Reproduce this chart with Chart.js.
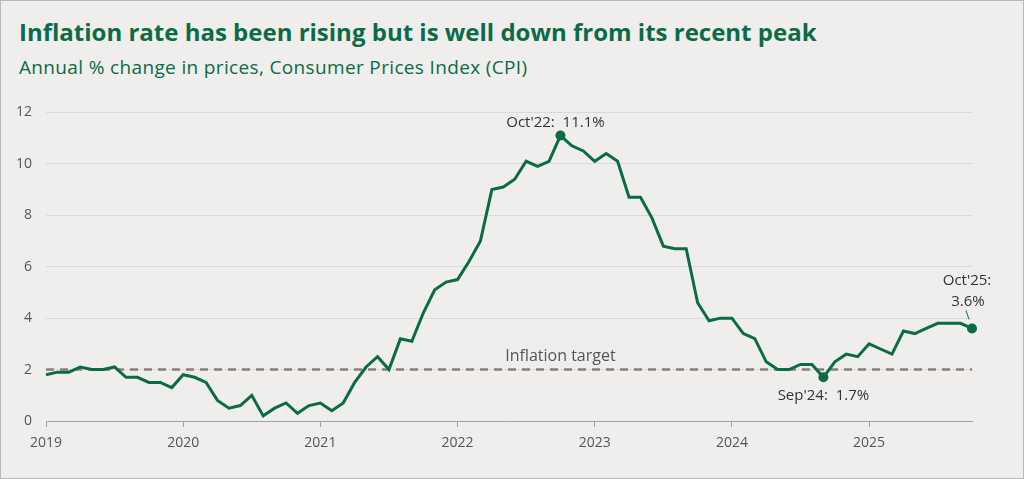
<!DOCTYPE html>
<html>
<head>
<meta charset="utf-8">
<script src="https://cdn.jsdelivr.net/npm/chart.js@4/dist/chart.umd.min.js"></script>
<style>
  body { margin: 0; background: #fff; }
  #frame {
    position: absolute; left: 0; top: 0;
    width: 1022px; height: 477px;
    border: 1px solid #b8b8b8;
    background: #efeeec;
    overflow: hidden;
  }
  h1 {
    position: absolute; left: 18px; top: 14px; margin: 0;
    font: bold 24px "Open Sans", sans-serif;
    color: #0b6b47; white-space: nowrap;
  }
  h2 {
    position: absolute; left: 18px; top: 53px; margin: 0;
    font: 19px "Open Sans", sans-serif; letter-spacing: 0.35px;
    color: #0b6b47; white-space: nowrap;
  }
  #wrap { position: absolute; left: 0; top: 89px; width: 1022px; height: 386px; }
</style>
</head>
<body>
<div id="frame">
  <h1>Inflation rate has been rising but is well down from its recent peak</h1>
  <h2>Annual % change in prices, Consumer Prices Index (CPI)</h2>
  <div id="wrap"><canvas id="chart"></canvas></div>
</div>
<script>
// CPI annual rate, monthly Jan 2019 - Oct 2025
const cpi = [
  1.8, 1.9, 1.9, 2.1, 2.0, 2.0, 2.1, 1.7, 1.7, 1.5, 1.5, 1.3, // 2019
  1.8, 1.7, 1.5, 0.8, 0.5, 0.6, 1.0, 0.2, 0.5, 0.7, 0.3, 0.6, // 2020
  0.7, 0.4, 0.7, 1.5, 2.1, 2.5, 2.0, 3.2, 3.1, 4.2, 5.1, 5.4, // 2021
  5.5, 6.2, 7.0, 9.0, 9.1, 9.4, 10.1, 9.9, 10.1, 11.1, 10.7, 10.5, // 2022
  10.1, 10.4, 10.1, 8.7, 8.7, 7.9, 6.8, 6.7, 6.7, 4.6, 3.9, 4.0, // 2023
  4.0, 3.4, 3.2, 2.3, 2.0, 2.0, 2.2, 2.2, 1.7, 2.3, 2.6, 2.5, // 2024
  3.0, 2.8, 2.6, 3.5, 3.4, 3.6, 3.8, 3.8, 3.8, 3.6 // 2025
];
const yearTicks = ["2019", "2020", "2021", "2022", "2023", "2024", "2025"];
const yTicks = [0, 2, 4, 6, 8, 10, 12];
const target = 2;
const targetLabel = "Inflation target";

// highlighted points (month index from Jan 2019)
const highlights = [
  { idx: 45, text: ["Oct'22:  11.1%"], pos: "above" },
  { idx: 68, text: ["Sep'24:  1.7%"], pos: "below" },
  { idx: 81, text: ["Oct'25:", "3.6%"], pos: "leader" },
];

const green = "#0b6b47";
const lastIdx = cpi.length - 1;
const hiIdx = highlights.map((h) => h.idx);

const annotations = {
  id: "annotations",
  afterDatasetsDraw(chart) {
    const { ctx, scales } = chart;
    const xs = scales.x, ys = scales.y;
    ctx.save();
    ctx.font = '15px "Open Sans", sans-serif';
    ctx.fillStyle = "#333";
    ctx.textAlign = "center";
    ctx.textBaseline = "middle";

    highlights.forEach((h) => {
      const px = xs.getPixelForValue(h.idx);
      const py = ys.getPixelForValue(cpi[h.idx]);
      if (h.pos === "above") {
        ctx.fillText(h.text[0], px - 5, py - 13);
      } else if (h.pos === "below") {
        ctx.fillText(h.text[0], px, py + 18);
      } else {
        ctx.fillText(h.text[0], px - 5, py - 48);
        ctx.fillText(h.text[1], px - 4, py - 27);
        ctx.strokeStyle = green;
        ctx.lineWidth = 1;
        ctx.beginPath();
        ctx.moveTo(px - 6, py - 18);
        ctx.lineTo(px - 3, py - 9);
        ctx.stroke();
      }
    });

    // target label
    ctx.fillStyle = "#555";
    ctx.font = '16px "Open Sans", sans-serif';
    ctx.fillText(targetLabel, xs.getPixelForValue(45), ys.getPixelForValue(target) - 13);
    ctx.restore();
  },
};

new Chart(document.getElementById("chart").getContext("2d"), {
  type: "line",
  data: {
    datasets: [
      {
        label: "CPI",
        data: cpi.map((v, i) => ({ x: i, y: v })),
        borderColor: green,
        borderWidth: 3,
        tension: 0,
        pointRadius: (c) => (hiIdx.includes(c.dataIndex) ? 5 : 0),
        pointBackgroundColor: green,
        pointBorderWidth: 0,
        clip: false,
        order: 1,
      },
      {
        label: targetLabel,
        data: [{ x: 0, y: target }, { x: lastIdx, y: target }],
        borderColor: "#8a7f7a",
        borderWidth: 2.5,
        borderDash: [8, 6],
        pointRadius: 0,
        order: 2,
      },
    ],
  },
  plugins: [annotations],
  options: {
    responsive: true,
    maintainAspectRatio: false,
    animation: false,
    layout: { padding: { top: 22, right: 51, left: 0, bottom: 0 } },
    plugins: { legend: { display: false }, tooltip: { enabled: false } },
    scales: {
      x: {
        type: "linear",
        min: 0,
        max: lastIdx,
        afterFit: (s) => { s.height = 55; },
        afterBuildTicks: (s) => {
          s.ticks = yearTicks.map((_, i) => ({ value: i * 12 }));
        },
        ticks: {
          color: "#555",
          font: { family: "Open Sans", size: 14 },
          padding: 8,
          maxRotation: 0,
          autoSkip: false,
          callback: (v) => yearTicks[v / 12],
        },
        grid: { drawOnChartArea: false, drawTicks: true, tickLength: 6, color: "#a0a0a0" },
        border: { display: true, color: "#a0a0a0", width: 1 },
      },
      y: {
        min: 0,
        max: 12,
        afterFit: (s) => { s.width = 45; },
        afterBuildTicks: (s) => {
          s.ticks = yTicks.map((v) => ({ value: v }));
        },
        ticks: {
          color: "#555",
          font: { family: "Open Sans", size: 14 },
          padding: 14,
        },
        grid: { color: (c) => (c.tick.value === 0 ? "rgba(0,0,0,0)" : "#d9dadc"), drawTicks: false },
        border: { display: false },
      },
    },
  },
});
</script>
</body>
</html>
